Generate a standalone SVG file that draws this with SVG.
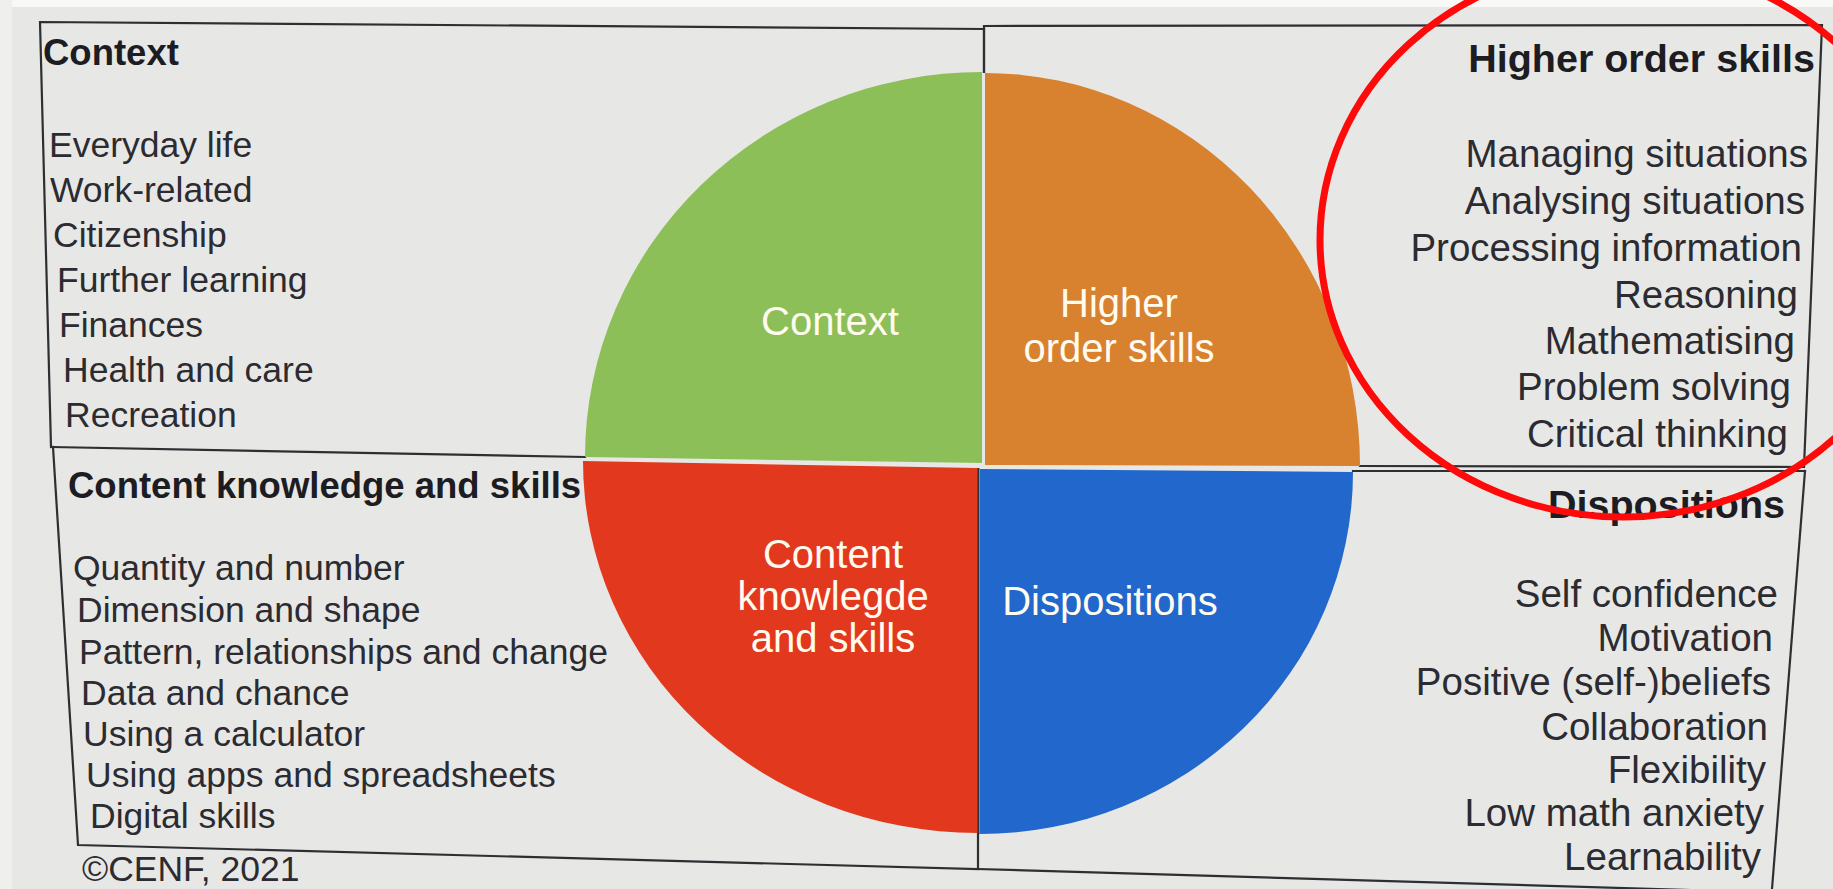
<svg xmlns="http://www.w3.org/2000/svg" width="1833" height="889" viewBox="0 0 1833 889">
  <style>
    .frame { fill: none; stroke: #2e2f33; stroke-width: 2.2; stroke-linecap: square; }
    .title { font-family: "Liberation Sans", Arial, sans-serif; font-weight: bold; fill: #1c1c22; }
    .item { font-family: "Liberation Sans", Arial, sans-serif; fill: #2b2b31; }
    .left .item { font-size: 35.5px; }
    .left .title { font-size: 36.5px; }
    .right .item { font-size: 38.5px; text-anchor: end; }
    .right .title { font-size: 39.5px; text-anchor: end; }
    .slice-label { font-family: "Liberation Sans", Arial, sans-serif; font-size: 40px; fill: #fffbee; text-anchor: middle; }
    .mark { fill: none; stroke: #ff0a0a; stroke-width: 7; }
  </style>

  <!-- screen background -->
  <rect x="0" y="0" width="1833" height="889" fill="#e7e8e5"/>
  <rect x="0" y="0" width="1833" height="7" fill="#f8f8f7"/>
  <rect x="0" y="0" width="12" height="889" fill="#efefed"/>

  <!-- box outlines -->
  <g id="frame">
    <polyline class="frame" points="51,447 40,22 984,29 984,72"/>
    <polyline class="frame" points="984,72 984,26 1822,25 1804,467 1360,466"/>
    <line class="frame" x1="52" y1="447" x2="585" y2="457"/>
    <polyline class="frame" points="53,447 78,845 978,869 978,833"/>
    <line class="frame" x1="1353" y1="471" x2="1805" y2="471"/>
    <polyline class="frame" points="1805,471 1772,889"/>
    <line class="frame" x1="978" y1="869" x2="1790" y2="893"/>
  </g>

  <!-- four quadrants of the wheel -->
  <g id="slice-context">
    <path d="M982,72 A397,385 0 0 0 585,457 L982,463 Z" fill="#8dbf58"/>
    <text class="slice-label" x="830" y="335">Context</text>
  </g>
  <g id="slice-higher">
    <path d="M985,73 A375,393 0 0 1 1360,466 L985,465 Z" fill="#d8812f"/>
    <text class="slice-label" x="1119" y="317">Higher</text>
    <text class="slice-label" x="1119" y="362">order skills</text>
  </g>
  <g id="slice-content">
    <path d="M583,461 A395,372 0 0 0 978,833 L978,468 Z" fill="#e2381e"/>
    <text class="slice-label" x="833" y="568">Content</text>
    <text class="slice-label" x="833" y="610">knowlegde</text>
    <text class="slice-label" x="833" y="652">and skills</text>
  </g>
  <g id="slice-dispositions">
    <path d="M980,469 L1353,472 A373,362 0 0 1 980,834 Z" fill="#2167cc"/>
    <text class="slice-label" x="1110" y="615">Dispositions</text>
  </g>
  <line x1="978.5" y1="468" x2="978.5" y2="834" stroke="#2e2f33" stroke-width="2"/>

  <!-- Context box -->
  <g id="box-context" class="left">
    <text class="title" x="43" y="65">Context</text>
    <text class="item" x="49" y="157">Everyday life</text>
    <text class="item" x="50" y="202">Work-related</text>
    <text class="item" x="53" y="247">Citizenship</text>
    <text class="item" x="57" y="292">Further learning</text>
    <text class="item" x="59" y="337">Finances</text>
    <text class="item" x="63" y="382">Health and care</text>
    <text class="item" x="65" y="427">Recreation</text>
  </g>

  <!-- Content knowledge box -->
  <g id="box-content" class="left">
    <text class="title" x="68" y="498">Content knowledge and skills</text>
    <text class="item" x="73" y="580">Quantity and number</text>
    <text class="item" x="77" y="622">Dimension and shape</text>
    <text class="item" x="79" y="664">Pattern, relationships and change</text>
    <text class="item" x="81" y="705">Data and chance</text>
    <text class="item" x="83" y="746">Using a calculator</text>
    <text class="item" x="86" y="787">Using apps and spreadsheets</text>
    <text class="item" x="90" y="828">Digital skills</text>
    <text class="item" x="82" y="881">©CENF, 2021</text>
  </g>

  <!-- Higher order skills box -->
  <g id="box-higher" class="right">
    <text class="title" x="1815" y="72">Higher order skills</text>
    <text class="item" x="1808" y="167">Managing situations</text>
    <text class="item" x="1805" y="214">Analysing situations</text>
    <text class="item" x="1802" y="261">Processing information</text>
    <text class="item" x="1798" y="308">Reasoning</text>
    <text class="item" x="1795" y="354">Mathematising</text>
    <text class="item" x="1791" y="400">Problem solving</text>
    <text class="item" x="1788" y="447">Critical thinking</text>
  </g>

  <!-- Dispositions box -->
  <g id="box-dispositions" class="right">
    <text class="title" x="1785" y="518">Dispositions</text>
    <text class="item" x="1778" y="607">Self confidence</text>
    <text class="item" x="1773" y="651">Motivation</text>
    <text class="item" x="1771" y="695">Positive (self-)beliefs</text>
    <text class="item" x="1768" y="740">Collaboration</text>
    <text class="item" x="1766" y="783">Flexibility</text>
    <text class="item" x="1764" y="826">Low math anxiety</text>
    <text class="item" x="1761" y="870">Learnability</text>
  </g>

  <!-- hand-drawn highlight ring -->
  <g id="highlight">
    <ellipse class="mark" cx="1623" cy="240" rx="303" ry="277"/>
  </g>
</svg>
